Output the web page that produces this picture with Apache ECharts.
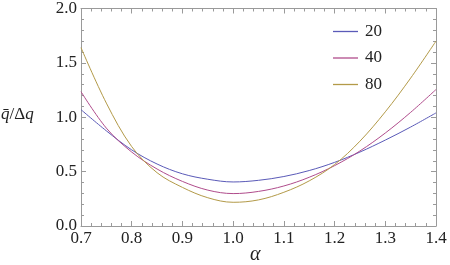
<!DOCTYPE html>
<html>
<head>
<meta charset="utf-8">
<script src="https://cdn.jsdelivr.net/npm/echarts@6/dist/echarts.min.js"></script>
<style>html,body{margin:0;padding:0;background:#fff}#c{width:450px;height:265px}</style>
</head>
<body>
<div id="c"></div>
<script>
const alphas = [0.70,0.75,0.80,0.85,0.90,0.95,1.00,1.05,1.10,1.15,1.20,1.25,1.30,1.35,1.40];
const seriesNames = ['20','40','80'];
const values20 = [1.07,0.875,0.70,0.57,0.48,0.43,0.405,0.42,0.455,0.51,0.585,0.68,0.79,0.91,1.04];
const values40 = [1.235,0.90,0.68,0.524,0.41,0.33,0.298,0.318,0.368,0.448,0.555,0.69,0.855,1.045,1.255];
const values80 = [1.64,1.13,0.73,0.49,0.355,0.26,0.218,0.24,0.31,0.415,0.565,0.78,1.05,1.36,1.70];
const colors = ['#5a5ab8','#b04c8c','#b39a48'];
const xTicks = ['0.7','0.8','0.9','1.0','1.1','1.2','1.3','1.4'];
const yTicks = ['0.0','0.5','1.0','1.5','2.0'];

const font = 'Liberation Serif';
const axisGray = '#9a9a9a';
const allValues = [values20, values40, values80];

function axisCommon(showLabels, isX) {
  return {
    type: 'value',
    min: isX ? 0.7 : 0,
    max: isX ? 1.4 : 2.0,
    interval: isX ? 0.1 : 0.5,
    axisLine: {show: true, onZero: false, lineStyle: {color: axisGray, width: 1}},
    axisTick: {show: true, inside: true, length: 5, lineStyle: {color: axisGray}},
    minorTick: {show: true, splitNumber: 5, length: 3, lineStyle: {color: axisGray}},
    splitLine: {show: false},
    axisLabel: {
      show: showLabels, color: '#222', fontFamily: font, fontSize: 17,
      margin: 4,
      formatter: v => {
        const s = v.toFixed(1);
        const list = isX ? xTicks : yTicks;
        return list.indexOf(s) >= 0 ? s : '';
      }
    }
  };
}

const chart = echarts.init(document.getElementById('c'), null, {renderer: 'canvas'});
chart.setOption({
  animation: false,
  backgroundColor: '#fff',
  grid: {left: 81, right: 14, top: 7, bottom: 39},
  xAxis: [
    Object.assign(axisCommon(true, true), {position: 'bottom'}),
    Object.assign(axisCommon(false, true), {position: 'top'})
  ],
  yAxis: [
    Object.assign(axisCommon(true, false), {position: 'left'}),
    Object.assign(axisCommon(false, false), {position: 'right'})
  ],
  legend: {
    orient: 'vertical', left: 328, top: 18,
    icon: 'rect', itemWidth: 25, itemHeight: 1.3, itemGap: 9.5,
    textStyle: {fontFamily: font, fontSize: 17, color: '#222', padding: [0, 0, 0, 2]},
    data: seriesNames
  },
  series: seriesNames.map((n, i) => ({
    name: n, type: 'line', symbol: 'none', smooth: 0.35,
    xAxisIndex: 0, yAxisIndex: 0,
    lineStyle: {color: colors[i], width: 1},
    itemStyle: {color: colors[i]},
    data: alphas.map((a, k) => [a, allValues[i][k]])
  })),
  graphic: [
    {type: 'text', left: 250, top: 245,
     style: {text: 'α', fontFamily: font, fontStyle: 'italic', fontSize: 20, fill: '#222'}},
    {type: 'text', left: 1, top: 106,
     style: {
       text: '{i|q̄}{n|/Δ}{i|q}',
       rich: {
         i: {fontFamily: font, fontStyle: 'italic', fontSize: 17, fill: '#222'},
         n: {fontFamily: font, fontSize: 17, fill: '#222'}
       }
     }}
  ]
});
</script>
</body>
</html>
